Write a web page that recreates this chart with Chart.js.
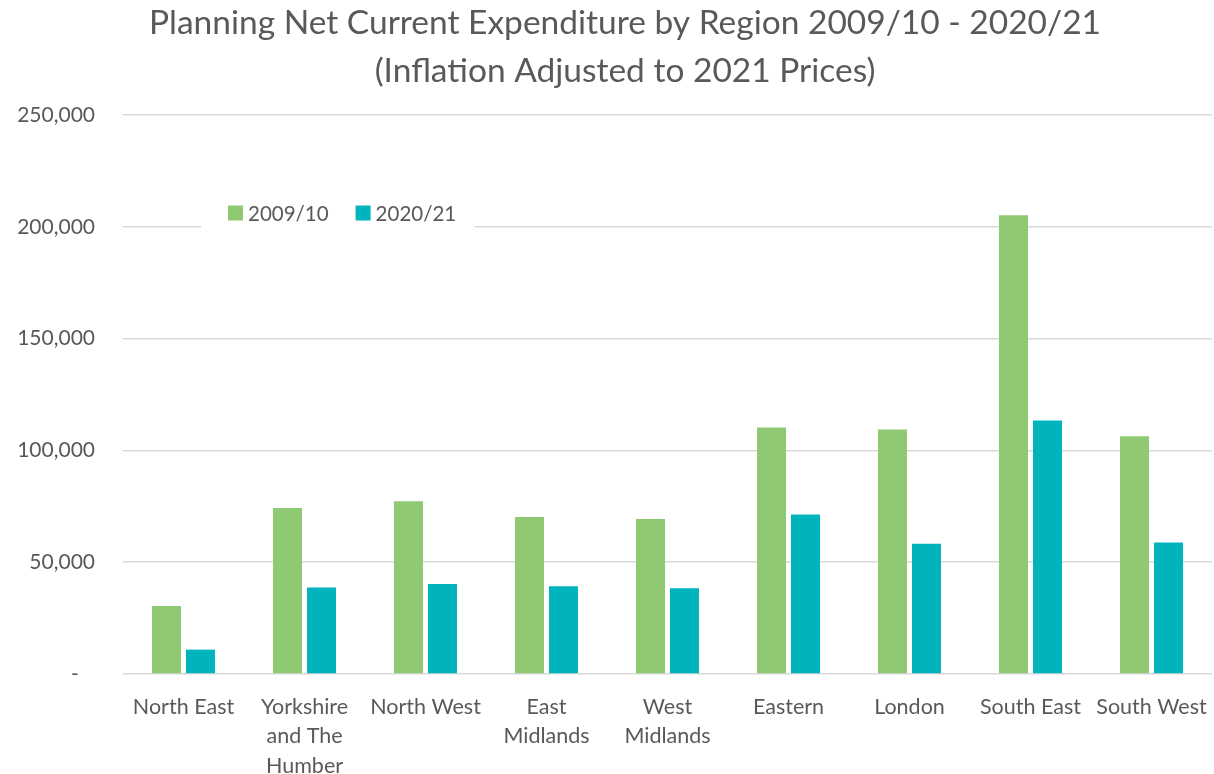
<!DOCTYPE html>
<html>
<head>
<meta charset="utf-8">
<script src="https://cdn.jsdelivr.net/npm/chart.js@4/dist/chart.umd.min.js"></script>
<style>
  html, body { margin: 0; padding: 0; background: #ffffff; }
  #wrap { width: 1214px; height: 774px; position: relative; }
</style>
</head>
<body>
<div id="wrap"><canvas id="c" width="1214" height="774"></canvas></div>
<script>
const titleLines = ["Planning Net Current Expenditure by Region 2009/10 - 2020/21", "(Inflation Adjusted to 2021 Prices)"];
const categories = [
  ["North East"],
  ["Yorkshire", "and The", "Humber"],
  ["North West"],
  ["East", "Midlands"],
  ["West", "Midlands"],
  ["Eastern"],
  ["London"],
  ["South East"],
  ["South West"]
];
const seriesNames = ["2009/10", "2020/21"];
const values200910 = [30400, 74200, 77300, 70200, 69300, 110200, 109300, 205200, 106300];
const values202021 = [10900, 38700, 40300, 39300, 38300, 71300, 58200, 113400, 58800];
const yTicks = [0, 50000, 100000, 150000, 200000, 250000];
const colors = ["#8fc974", "#00b3bd"];

const FONT = "Lato, 'Open Sans', sans-serif";
const TEXT = "#595959";

const titlePlugin = {
  id: 'customTitle',
  afterDraw(chart) {
    const ctx = chart.ctx;
    ctx.save();
    ctx.fillStyle = TEXT;
    ctx.font = "33.5px " + FONT;
    ctx.textAlign = "center";
    ctx.textBaseline = "alphabetic";
    ctx.fillText(titleLines[0], 625, 34);
    ctx.fillText(titleLines[1], 625, 82);
    ctx.restore();
  }
};

const legendPlugin = {
  id: 'insideLegend',
  beforeDatasetsDraw(chart) {
    const ctx = chart.ctx;
    ctx.save();
    ctx.font = "20.5px " + FONT;
    ctx.fillStyle = "#ffffff";
    ctx.fillRect(201, 198, 274, 32);
    let x = 228;
    const box = 15, yMid = 213;
    ctx.textBaseline = "middle";
    ctx.textAlign = "left";
    chart.data.datasets.forEach((ds) => {
      ctx.fillStyle = ds.backgroundColor;
      ctx.fillRect(x, yMid - box / 2, box, box);
      ctx.fillStyle = TEXT;
      ctx.fillText(ds.label, x + box + 5, yMid + 1);
      x += box + 5 + ctx.measureText(ds.label).width + 27;
    });
    ctx.restore();
  }
};

new Chart(document.getElementById('c'), {
  type: 'bar',
  data: {
    labels: categories,
    datasets: [
      { label: seriesNames[0], data: values200910, backgroundColor: colors[0], borderWidth: 0 },
      { label: seriesNames[1], data: values202021, backgroundColor: colors[1], borderWidth: 0 }
    ]
  },
  options: {
    responsive: false,
    animation: false,
    devicePixelRatio: 1,
    layout: { padding: { top: 115, right: 2, left: 0, bottom: 0 } },
    categoryPercentage: 0.562,
    barPercentage: 0.853,
    plugins: {
      legend: { display: false },
      title: { display: false },
      tooltip: { enabled: false }
    },
    scales: {
      x: {
        grid: { display: false, drawTicks: false },
        border: { display: false },
        ticks: {
          color: TEXT,
          font: { family: FONT, size: 21.5, lineHeight: 1.35 },
          padding: 19,
          maxRotation: 0,
          autoSkip: false
        },
        afterFit(scale) { scale.height = 100; scale.paddingLeft = 0; scale.paddingRight = 0; }
      },
      y: {
        min: 0,
        max: 250000,
        afterBuildTicks(scale) { scale.ticks = yTicks.map(v => ({ value: v })); },
        grid: { color: "#d9d9d9", lineWidth: 1.5, drawTicks: false },
        border: { display: false },
        ticks: {
          color: TEXT,
          font: { family: FONT, size: 21 },
          padding: 28,
          callback: (v) => v === 0 ? "-   " : Number(v).toLocaleString('en-US')
        },
        afterFit(scale) { scale.width = 123; scale.paddingTop = 0; scale.paddingBottom = 0; }
      }
    }
  },
  plugins: [legendPlugin, titlePlugin]
});
</script>
</body>
</html>
